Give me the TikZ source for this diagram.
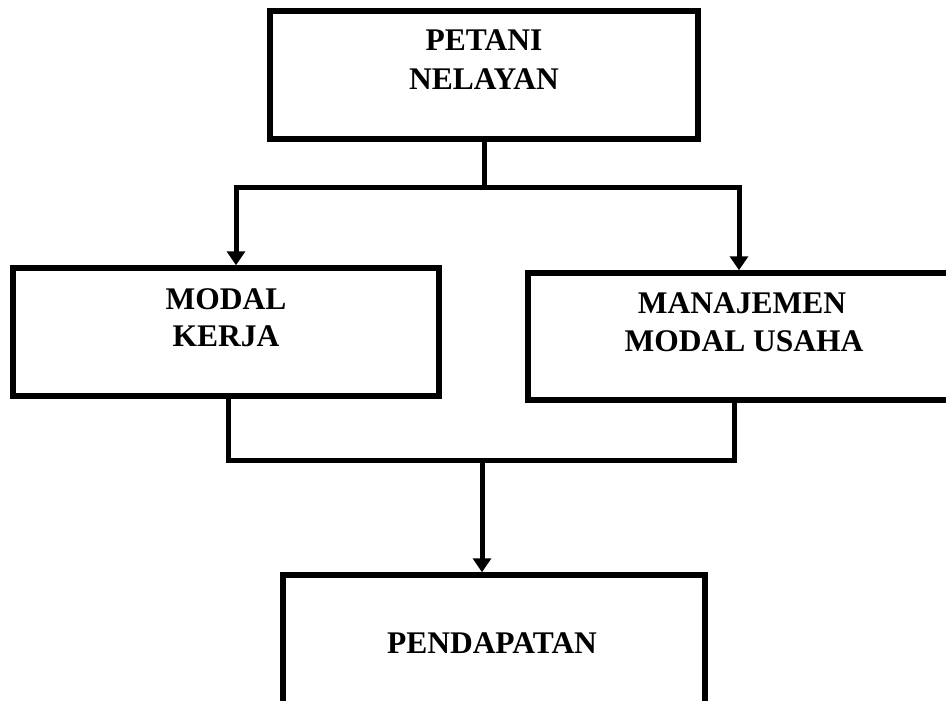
\documentclass[tikz,border=0pt]{standalone}
\usepackage{fontspec}
\setmainfont{Liberation Serif}
\usetikzlibrary{arrows.meta}
\begin{document}
\begin{tikzpicture}[x=1pt,y=-1pt,
  box/.style={draw=black,line width=5.5pt,rectangle,inner sep=0pt},
  lbl/.style={font=\fontsize{31.5}{37}\selectfont\bfseries,inner sep=0pt,anchor=base},
  conn/.style={line width=5pt},
  arr/.style={line width=5pt,-{Triangle[width=18pt,length=14pt]}}]
\useasboundingbox (0,0) rectangle (946,701);
\clip (0,0) rectangle (946,701);
\fill[white] (0,0) rectangle (946,701);
% boxes
\node[box,minimum width=428pt,minimum height=128pt] (top) at (484,75) {};
\node[box,minimum width=426pt,minimum height=128pt] (lbox) at (226,332) {};
\node[box,minimum width=432pt,minimum height=127pt] (rbox) at (744,336.5) {};
\node[box,minimum width=422pt,minimum height=145pt] (bbox) at (494,647.5) {};
% texts
\node[lbl] (t1a) at (484,51) {PETANI};
\node[lbl] (t1b) at (484,89) {NELAYAN};
\node[lbl] (t2a) at (226,309) {MODAL};
\node[lbl] (t2b) at (226,346) {KERJA};
\node[lbl] (t3a) at (742,313) {MANAJEMEN};
\node[lbl] (t3b) at (744,351) {MODAL USAHA};
\node[lbl] (t4) at (492,653) {PENDAPATAN};
% connectors
\coordinate (split) at (484,187);
\coordinate (la) at (236,187);
\coordinate (ra) at (739,187);
\draw[conn] (top.south) -- (split);
\draw[conn,line cap=rect] (la) -- (ra);
\draw[arr] (la) -- (la |- lbox.north);
\draw[arr] (ra) -- (ra |- rbox.north);
\coordinate (lb) at (228,460);
\coordinate (rb) at (734,460);
\coordinate (join) at (482,460);
\draw[conn,line join=miter] (lb |- lbox.south) -- (lb) -- (rb) -- (rb |- rbox.south);
\draw[arr] (join) -- (join |- bbox.north);
\end{tikzpicture}
\end{document}
